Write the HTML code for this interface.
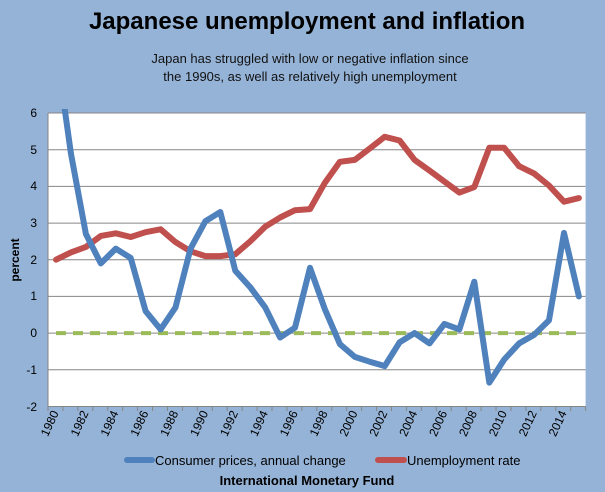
<!DOCTYPE html>
<html><head><meta charset="utf-8"><style>
html,body{margin:0;padding:0;background:#95b3d7;}
svg{display:block;font-family:"Liberation Sans",sans-serif;}
</style></head><body>
<svg width="605" height="492" viewBox="0 0 605 492" xmlns="http://www.w3.org/2000/svg">
<rect width="605" height="492" fill="#95b3d7"/>
<text x="307" y="29" text-anchor="middle" font-size="24" font-weight="bold" fill="#000">Japanese unemployment and inflation</text>
<text x="310" y="63" text-anchor="middle" font-size="13" fill="#111">Japan has struggled with low or negative inflation since</text>
<text x="310" y="81" text-anchor="middle" font-size="13" fill="#111">the 1990s,  as well as relatively high unemployment</text>
<rect x="48" y="113" width="537.6" height="293.5" fill="#fff"/>
<g stroke="#868686" stroke-width="1">
<line x1="48" x2="585.6" y1="113" y2="113"/>
<line x1="48" x2="585.6" y1="149.7" y2="149.7"/>
<line x1="48" x2="585.6" y1="186.4" y2="186.4"/>
<line x1="48" x2="585.6" y1="223.1" y2="223.1"/>
<line x1="48" x2="585.6" y1="259.8" y2="259.8"/>
<line x1="48" x2="585.6" y1="296.4" y2="296.4"/>
<line x1="48" x2="585.6" y1="333.1" y2="333.1"/>
<line x1="48" x2="585.6" y1="369.8" y2="369.8"/>
<line x1="48" x2="585.6" y1="406.5" y2="406.5"/>
<line x1="48" x2="48" y1="113" y2="406.5"/>
</g>
<g font-size="12" fill="#000" text-anchor="end">
<text x="37" y="117">6</text><text x="37" y="154">5</text><text x="37" y="190">4</text><text x="37" y="227">3</text><text x="37" y="264">2</text><text x="37" y="300">1</text><text x="37" y="337">0</text><text x="37" y="374">-1</text><text x="37" y="411">-2</text>
</g>
<text transform="translate(19,260) rotate(-90)" text-anchor="middle" font-size="12" font-weight="bold">percent</text>
<g id="ticks" stroke="#868686"></g>
<g id="xl" font-size="12" fill="#000"></g>
<defs><clipPath id="c"><rect x="48" y="109" width="540" height="300"/></clipPath></defs>
<line x1="56" x2="579" y1="333.1" y2="333.1" stroke="#9bbb59" stroke-width="4" stroke-dasharray="10,7"/>
<polyline id="red" fill="none" stroke="#c0504d" stroke-width="6" stroke-linejoin="round" stroke-linecap="round"/>
<polyline id="blue" clip-path="url(#c)" fill="none" stroke="#4f81bd" stroke-width="6" stroke-linejoin="round" stroke-linecap="round"/>
<line x1="127" x2="152" y1="460" y2="460" stroke="#4f81bd" stroke-width="6" stroke-linecap="round"/>
<text x="155" y="465" font-size="13">Consumer prices, annual change</text>
<line x1="378" x2="404" y1="460" y2="460" stroke="#c0504d" stroke-width="6" stroke-linecap="round"/>
<text x="407" y="465" font-size="13">Unemployment rate</text>
<text x="307" y="485" text-anchor="middle" font-size="13" font-weight="bold">International Monetary Fund</text>
</svg>
<script>
var cpi=[7.8,4.9,2.7,1.9,2.3,2.05,0.6,0.1,0.7,2.3,3.05,3.3,1.7,1.25,0.7,-0.12,0.15,1.78,0.65,-0.3,-0.65,-0.78,-0.9,-0.25,0.0,-0.28,0.25,0.1,1.4,-1.35,-0.72,-0.28,-0.05,0.35,2.73,1.0];
var un=[2.0,2.2,2.35,2.65,2.72,2.62,2.75,2.83,2.48,2.23,2.1,2.1,2.15,2.5,2.9,3.15,3.35,3.38,4.1,4.67,4.72,5.03,5.35,5.25,4.72,4.43,4.13,3.83,3.98,5.05,5.05,4.55,4.35,4.02,3.58,3.68];
function X(i){return 56+i*14.94}function Y(v){return 333.1-v*36.69}
function pts(a){return a.map(function(v,i){return X(i).toFixed(1)+","+Y(v).toFixed(1)}).join(" ")}
document.getElementById("red").setAttribute("points",pts(un));
document.getElementById("blue").setAttribute("points",pts(cpi));
var ns="http://www.w3.org/2000/svg",t=document.getElementById("ticks"),xl=document.getElementById("xl");
for(var i=0;i<=36;i++){var l=document.createElementNS(ns,"line");var x=48+i*14.934;l.setAttribute("x1",x);l.setAttribute("x2",x);l.setAttribute("y1",406.5);l.setAttribute("y2",411);t.appendChild(l);}
for(var y=1980;y<=2014;y+=2){var i=y-1980;var tx=document.createElementNS(ns,"text");var x=X(i)+3;tx.setAttribute("transform","translate("+x+",413) rotate(-65)");tx.setAttribute("text-anchor","end");tx.textContent=y;xl.appendChild(tx);}
</script>
</body></html>
